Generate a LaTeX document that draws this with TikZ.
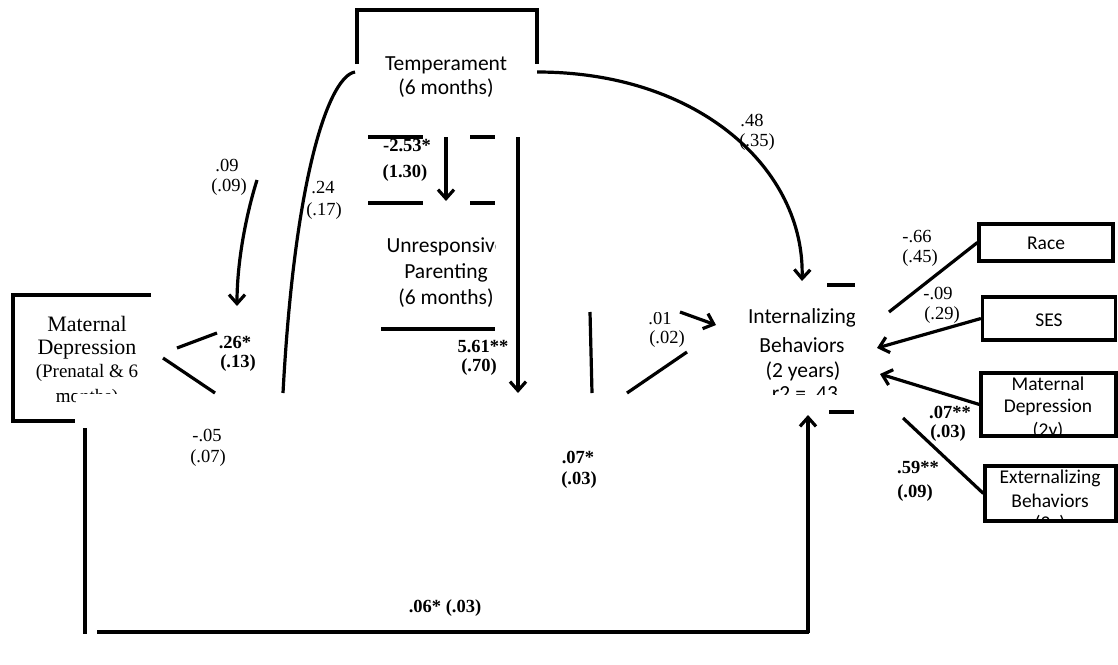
\documentclass[tikz,border=0pt]{standalone}
\usepackage{fontspec}
\setmainfont{Liberation Serif}
\newfontfamily\calfont{Carlito}
\usetikzlibrary{arrows.meta}
\begin{document}
\begin{tikzpicture}[x=1pt,y=-1pt,
  ln/.style={line width=3.2pt},
  arr/.style={ln,-{Straight Barb[length=9pt,width=16pt]}},
  lab/.style={font=\fontsize{18.5}{20}\selectfont,inner sep=0pt},
  blab/.style={font=\fontsize{18.5}{20}\selectfont\bfseries,inner sep=0pt},
  ctext/.style={font=\calfont\fontsize{21.5}{24}\selectfont,inner sep=0pt},
  rtext/.style={font=\calfont\fontsize{19.5}{22}\selectfont,inner sep=0pt},
  mtext/.style={font=\fontsize{22}{24}\selectfont,inner sep=0pt},
  stext/.style={font=\fontsize{19}{22}\selectfont,inner sep=0pt},
  rbox/.style={draw,ln,inner sep=0pt}
]
\useasboundingbox (0,0) rectangle (1118,664);

% ---------- Temperament ----------
\coordinate (tTL) at (357,10);
\coordinate (tTR) at (537,10);
\draw[ln] (357,64) -- (tTL) -- (tTR) -- (537,64);
\node[ctext] (temp1) at (446,65) {Temperament};
\node[ctext] (temp2) at (446,88) {(6 months)};

% curve .24
\coordinate (c24a) at (355,72);
\coordinate (c24b) at (283,393);
\draw[ln] (c24a) .. controls (330,76) and (295,170) .. (c24b);
\node[lab] (l24a) at (323,188) {.24};
\node[lab] (l24b) at (324,211) {(.17)};

% curve .09
\coordinate (c09a) at (257,180);
\coordinate (c09b) at (237,306);
\draw[arr] (c09a) .. controls (246,215) and (237,262) .. (c09b);
\node[lab] (l09a) at (227,165) {.09};
\node[lab] (l09b) at (229,187) {(.09)};

% curve .48
\coordinate (c48a) at (537,72);
\coordinate (c48b) at (802,281);
\draw[arr] (c48a) .. controls (700,72) and (805,170) .. (c48b);
\node[lab] (l48a) at (752,120) {.48};
\node[lab] (l48b) at (757,142) {(.35)};

% ---------- Unresponsive Parenting ----------
\draw[ln] (368,137) -- (423,137);
\draw[ln] (470,137) -- (495,137);
\draw[ln] (368,203) -- (423,203);
\draw[ln] (470,203) -- (495,203);
\draw[ln] (381,329) -- (495,329);
\coordinate (a253a) at (446,137);
\coordinate (a253b) at (446,201);
\draw[arr] (a253a) -- (a253b);
\node[blab] (l253a) at (407,146) {-2.53*};
\node[blab] (l253b) at (405,173) {(1.30)};
\begin{scope}
  \clip (370,230) rectangle (495,320);
  \node[ctext] (up1) at (446,247) {Unresponsive};
\end{scope}
\node[ctext] (up2) at (446,273) {Parenting};
\node[ctext] (up3) at (446,298) {(6 months)};

\coordinate (a561a) at (518,137);
\coordinate (a561b) at (518,393);
\draw[arr] (a561a) -- (a561b);
\node[blab] (l561a) at (483,346) {5.61**};
\node[blab] (l561b) at (479,367) {(.70)};

% ---------- Maternal Depression (left) ----------
\draw[ln] (151,295) -- (13,295) -- (13,421) -- (75,421);
\node[mtext] (md1) at (87,324) {Maternal};
\node[mtext] (md2) at (87,350) {Depression};
\node[stext] (md3) at (87,373) {(Prenatal \& 6};
\begin{scope}
  \clip (0,385) rectangle (75,415);
  \node[stext] (md4) at (87,398) {months)};
\end{scope}
\begin{scope}
  \clip (0,385) rectangle (200,393);
  \node[stext] (md4b) at (87,398) {months)};
\end{scope}
\coordinate (m26a) at (177,348);
\coordinate (m26b) at (217,333);
\draw[ln] (m26a) -- (m26b);
\coordinate (m05a) at (163,358);
\coordinate (m05b) at (215,393);
\draw[ln] (m05a) -- (m05b);
\node[blab] (l26a) at (235,342) {.26*};
\node[blab] (l26b) at (238,363) {(.13)};
\node[lab] (l05a) at (207,435) {-.05};
\node[lab] (l05b) at (208,458) {(.07)};

% ---------- middle fragments ----------
\coordinate (v1a) at (590,312);
\coordinate (v1b) at (592,393);
\draw[ln] (v1a) -- (v1b);
\coordinate (d07a) at (627,393);
\coordinate (d07b) at (687,352);
\draw[ln] (d07a) -- (d07b);
\coordinate (a01a) at (680,312);
\coordinate (a01b) at (716,325);
\draw[arr] (a01a) -- (a01b);
\begin{scope}
  \clip (630,312) rectangle (700,332);
  \node[lab] (l01a) at (660,318) {.01};
\end{scope}
\node[lab] (l01b) at (667,339) {(.02)};
\node[blab] (l07a) at (578,457) {.07*};
\node[blab] (l07b) at (579,480) {(.03)};

% ---------- Internalizing ----------
\draw[ln] (827,285) -- (855,285);
\draw[ln] (829,412) -- (854,412);
\begin{scope}
  \clip (700,290) rectangle (854,394);
  \node[ctext] (ib1) at (802,318) {Internalizing};
  \node[ctext] (ib2) at (802,345) {Behaviors};
  \node[ctext] (ib3) at (803,371) {(2 years)};
  \node[ctext] (ib4) at (805,394) {r2 = .43};
\end{scope}

% ---------- right boxes ----------
\node[rbox,minimum width=134pt,minimum height=37pt] (race) at (1046,242.5) {};
\node[rtext] (racet) at (1046,243) {Race};
\node[rbox,minimum width=133pt,minimum height=43pt] (ses) at (1049,318.5) {};
\node[rtext] (sest) at (1049,320) {SES};
\node[rbox,minimum width=135pt,minimum height=63pt] (mdr) at (1048.5,404.5) {};
\begin{scope}
  \clip (982,374) rectangle (1115,435);
  \node[rtext] (mdr1) at (1048,384) {Maternal};
  \node[rtext] (mdr2) at (1048,407) {Depression};
  \node[rtext] (mdr3) at (1048,431) {(2y)};
\end{scope}
\node[rbox,minimum width=131pt,minimum height=55pt] (ext) at (1050.5,493.5) {};
\begin{scope}
  \clip (986,467) rectangle (1115,520);
  \node[rtext] (ext1) at (1050,478) {Externalizing};
  \node[rtext] (ext2) at (1050,501) {Behaviors};
  \node[rtext] (ext3) at (1050,524) {(2y)};
\end{scope}

\coordinate (raceEnd) at (889,312);
\draw[ln] (race.west) -- (raceEnd);
\coordinate (sesEnd) at (877,348);
\draw[arr] (ses.west) -- (sesEnd);
\coordinate (mdrEnd) at (880,374);
\draw[arr] (mdr.west) -- (mdrEnd);
\coordinate (extEnd) at (903,418);
\draw[ln] (ext.west) -- (extEnd);

\node[lab] (l66a) at (917,237) {-.66};
\node[lab] (l66b) at (920,258) {(.45)};
\node[lab] (l09c) at (938,293) {-.09};
\node[lab] (l09d) at (942,315) {(.29)};
\node[blab] (l07c) at (950,412) {.07**};
\node[blab] (l07d) at (948,433) {(.03)};
\node[blab] (l59a) at (918,467) {.59**};
\node[blab] (l59b) at (915,493) {(.09)};

% ---------- bottom path ----------
\coordinate (bA) at (85,428);
\coordinate (bB) at (85,634);
\coordinate (bC) at (97,632);
\coordinate (bD) at (809,632);
\coordinate (bE) at (808,633);
\coordinate (bF) at (808,415);
\draw[ln] (bA) -- (bB);
\draw[ln] (bC) -- (bD);
\draw[arr] (bE) -- (bF);
\node[blab] (l06) at (445,608) {.06* (.03)};
\end{tikzpicture}
\end{document}
